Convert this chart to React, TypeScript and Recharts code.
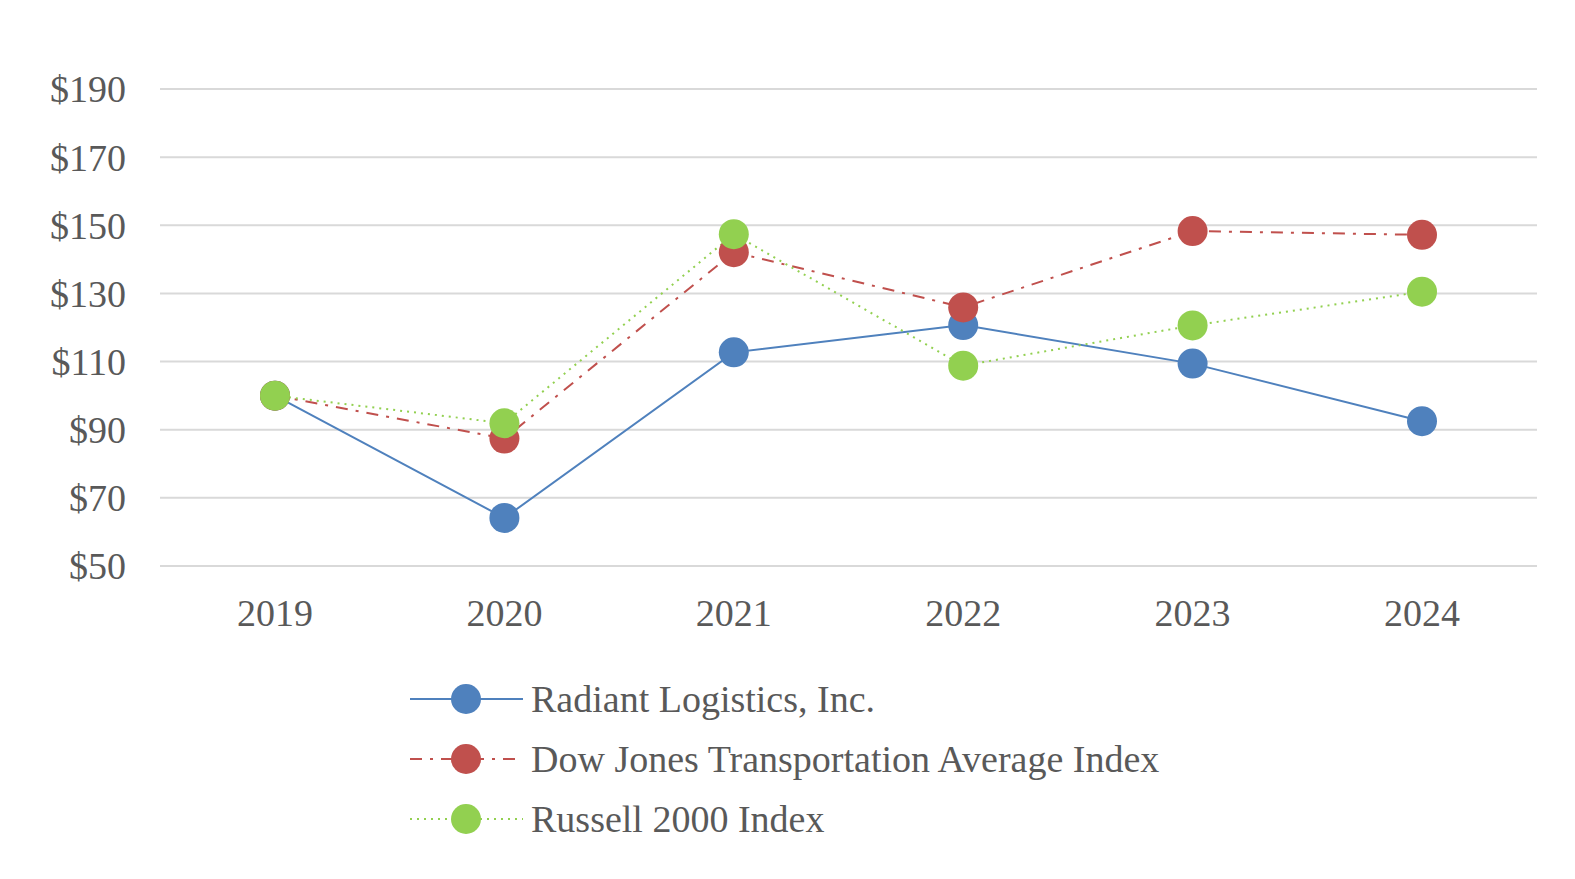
import { LineChart, Line, CartesianGrid, XAxis, YAxis, Legend } from "recharts"

const years = ["2019", "2020", "2021", "2022", "2023", "2024"]
const radiant = [100, 64.1, 112.7, 120.7, 109.4, 92.5]
const dowJones = [100, 87.4, 142.1, 125.9, 148.3, 147.2]
const russell = [100, 91.9, 147.4, 108.8, 120.6, 130.5]
const yTicks = [50, 70, 90, 110, 130, 150, 170, 190]

const data = years.map((year, i) => ({
  year,
  radiant: radiant[i],
  dowJones: dowJones[i],
  russell: russell[i],
}))

const FONT = '"Liberation Serif", "Times New Roman", serif'
const TEXT = "#595959"

const series = [
  { key: "radiant", name: "Radiant Logistics, Inc.", color: "#4F81BD", dash: undefined },
  { key: "dowJones", name: "Dow Jones Transportation Average Index", color: "#C0504D", dash: "12 8 3 8" },
  { key: "russell", name: "Russell 2000 Index", color: "#92D050", dash: "2 5" },
]

const LegendBox = () => (
  <div style={{ position: "absolute", left: 410, top: 669 }}>
    {series.map((s) => (
      <div key={s.key} style={{ display: "flex", alignItems: "center", height: 60 }}>
        <svg width={113} height={40}>
          <line x1={0} y1={20} x2={113} y2={20} stroke={s.color} strokeWidth={2} strokeDasharray={s.dash} />
          <circle cx={56} cy={20} r={15} fill={s.color} />
        </svg>
        <span style={{ marginLeft: 8, fontFamily: FONT, fontSize: 38, color: TEXT, lineHeight: "40px" }}>
          {s.name}
        </span>
      </div>
    ))}
  </div>
)

export default function App() {
  return (
    <div style={{ position: "absolute", left: 0, top: 0, width: 1575, height: 879, background: "#fff" }}>
      <LineChart
        width={1575}
        height={879}
        data={data}
        margin={{ top: 89, right: 38, bottom: 253, left: 20 }}
      >
        <CartesianGrid vertical={false} stroke="#D9D9D9" strokeWidth={2} />
        <XAxis
          dataKey="year"
          axisLine={false}
          tickLine={false}
          height={60}
          tickMargin={27}
          padding={{ left: 115, right: 115 }}
          tick={{ fill: TEXT, fontFamily: FONT, fontSize: 38 }}
        />
        <YAxis
          domain={[50, 190]}
          ticks={yTicks}
          width={140}
          axisLine={false}
          tickLine={false}
          tickMargin={28}
          tickFormatter={(v) => `$${v}`}
          tick={{ fill: TEXT, fontFamily: FONT, fontSize: 38 }}
        />
        {series.map((s) => (
          <Line
            key={s.key}
            dataKey={s.key}
            name={s.name}
            stroke={s.color}
            strokeWidth={2}
            strokeDasharray={s.dash}
            dot={{ r: 15, fill: s.color, stroke: "none" }}
            activeDot={false}
            isAnimationActive={false}
          />
        ))}
        <Legend content={() => null} />
      </LineChart>
      <LegendBox />
    </div>
  )
}
